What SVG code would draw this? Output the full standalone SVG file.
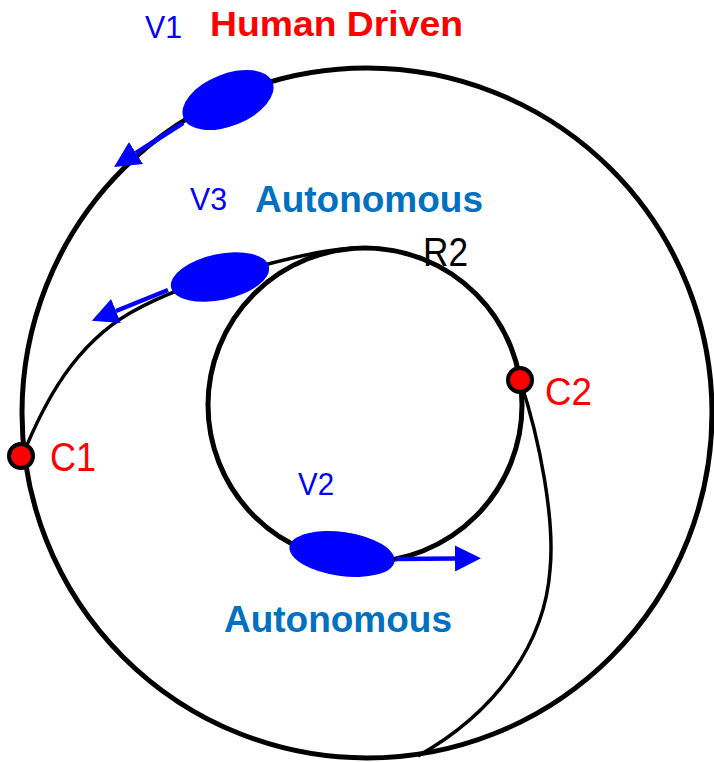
<svg xmlns="http://www.w3.org/2000/svg" width="714" height="762" viewBox="0 0 714 762">
<style>
.ring{fill:none;stroke:#000;stroke-width:5}
.conn{fill:none;stroke:#000;stroke-width:3.5}
.veh{fill:#0000FF}
.arr{fill:none;stroke:#0000FF;stroke-width:4.5}
.jn{fill:#FF0000;stroke:#000;stroke-width:4}
.t{font-family:"Liberation Sans",Arial,sans-serif}
.vl{fill:#0000FF;font-size:32px}
.red{fill:#FF0000}
.auto{fill:#0070C0;font-size:36px;font-weight:bold}
</style>
<defs>
<marker id="ah" markerUnits="userSpaceOnUse" markerWidth="26" markerHeight="26" viewBox="0 0 26 26" refX="0" refY="13" orient="auto">
<path d="M0,0 L26,13 L0,26 z" fill="#0000FF"/>
</marker>
</defs>
<g id="outer-road"><circle class="ring" cx="367" cy="413" r="345"/></g>
<g id="R2"><circle class="ring" cx="365" cy="405" r="157"/>
<text class="t" x="423" y="266" font-size="40" textLength="45" lengthAdjust="spacingAndGlyphs">R2</text></g>
<g id="connectors">
<path class="conn" d="M22,457 C45,400 75,345 130,313 C165,293 200,281 240,271 C290,259 320,249 360,248"/>
<path class="conn" d="M520,380 C540,440 555,520 550,570 C545,640 500,710 418,756"/>
</g>
<g id="V1">
<ellipse class="veh" cx="228" cy="100" rx="48" ry="26" transform="rotate(-22 228 100)"/>
<path class="arr" d="M183,123 L136,153" marker-end="url(#ah)"/>
<text class="t vl" x="145" y="38" textLength="37" lengthAdjust="spacingAndGlyphs">V1</text>
<text class="t red" x="210" y="36" font-size="35" font-weight="bold" textLength="253" lengthAdjust="spacingAndGlyphs">Human Driven</text>
</g>
<g id="V3">
<ellipse class="veh" cx="220" cy="277" rx="50" ry="23" transform="rotate(-12 220 277)"/>
<path class="arr" d="M168,290 L116,311" marker-end="url(#ah)"/>
<text class="t vl" x="190" y="210" textLength="37" lengthAdjust="spacingAndGlyphs">V3</text>
<text class="t auto" x="255" y="212" textLength="228" lengthAdjust="spacingAndGlyphs">Autonomous</text>
</g>
<g id="V2">
<ellipse class="veh" cx="342" cy="554" rx="53" ry="22" transform="rotate(8 342 554)"/>
<path class="arr" d="M396,559 L455,558.5" marker-end="url(#ah)"/>
<text class="t vl" x="298" y="495" textLength="36" lengthAdjust="spacingAndGlyphs">V2</text>
<text class="t auto" x="224" y="632" textLength="228" lengthAdjust="spacingAndGlyphs">Autonomous</text>
</g>
<g id="C1"><circle class="jn" cx="21" cy="456" r="12"/>
<text class="t red" x="50" y="471" font-size="40" textLength="46" lengthAdjust="spacingAndGlyphs">C1</text></g>
<g id="C2"><circle class="jn" cx="520" cy="380" r="12"/>
<text class="t red" x="545" y="405" font-size="39" textLength="47" lengthAdjust="spacingAndGlyphs">C2</text></g>
</svg>
